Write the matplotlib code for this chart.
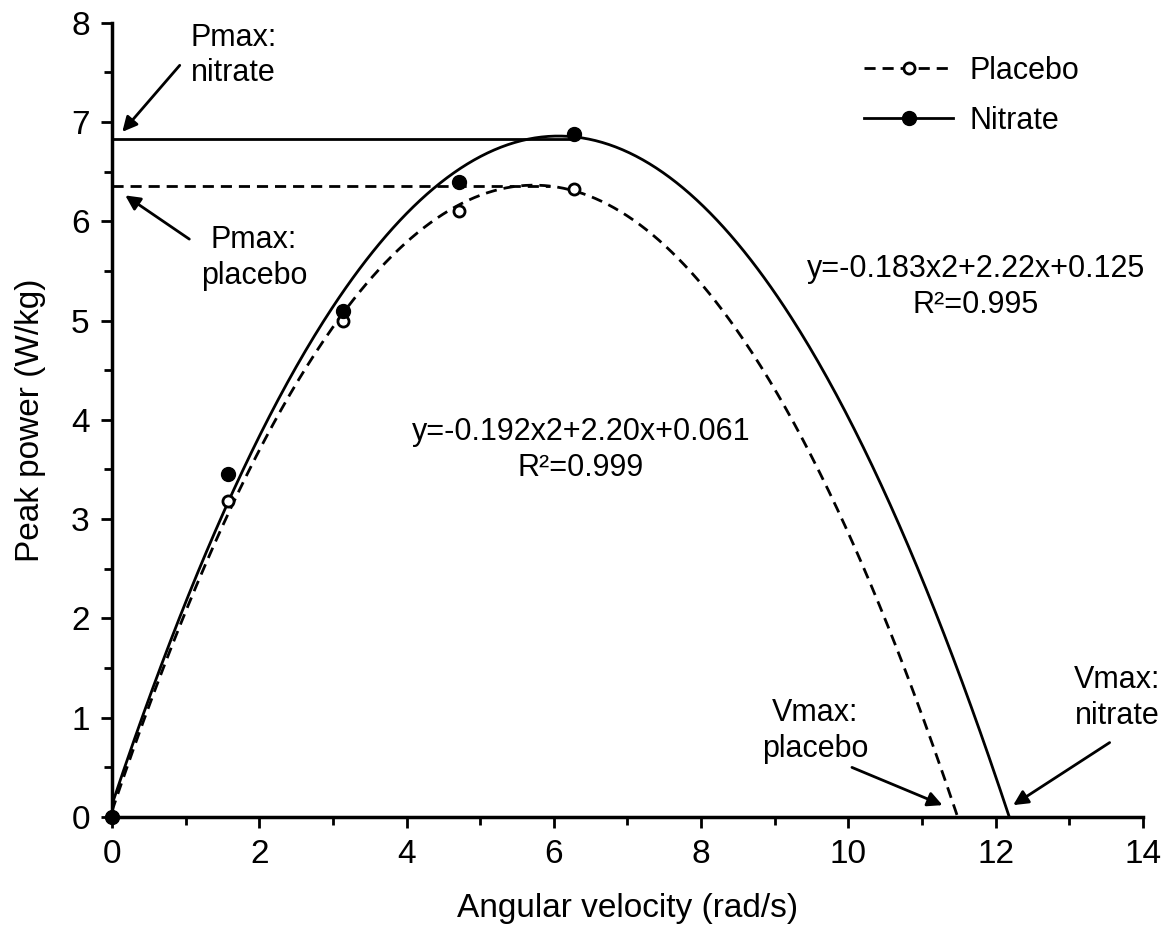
import numpy as np
import matplotlib
matplotlib.use("Agg")
import matplotlib.pyplot as plt
from matplotlib.lines import Line2D
from matplotlib.ticker import MultipleLocator

# measured points (angular velocity rad/s, peak power W/kg)
velocity = [0.0, 1.57, 3.14, 4.71, 6.28]
placebo_power = [0.0, 3.18, 5.00, 6.10, 6.32]
nitrate_power = [0.0, 3.45, 5.10, 6.40, 6.88]

# quadratic fits as printed on the chart (a, b, c)
placebo_fit = [-0.192, 2.20, 0.061]
nitrate_fit = [-0.183, 2.22, 0.125]
placebo_label = "y=-0.192x2+2.20x+0.061\nR\u00b2=0.999"
nitrate_label = "y=-0.183x2+2.22x+0.125\nR\u00b2=0.995"

# Pmax reference lines (level, end x)
placebo_pmax = [6.35, 5.95]
nitrate_pmax = [6.83, 6.25]

plt.rcParams['font.family'] = ['Liberation Sans', 'DejaVu Sans']
FS = 24      # axis labels / ticks
FS_T = 22    # annotations

fig = plt.figure(figsize=(11.74, 9.27), dpi=100)
ax = fig.add_axes([0.0954, 0.1186, 0.878, 0.857])

LW = 2.0
DASH = (0, (4, 2.5))


def fit_curve(coef):
    a, b, c = coef
    root = (-b - np.sqrt(b * b - 4 * a * c)) / (2 * a)
    xs = np.linspace(0, root, 400)
    return xs, np.polyval(coef, xs)


xs, ys = fit_curve(placebo_fit)
ax.plot(xs, ys, color="black", lw=LW, linestyle=DASH)
xs, ys = fit_curve(nitrate_fit)
ax.plot(xs, ys, color="black", lw=LW)

ax.plot([0, placebo_pmax[1]], [placebo_pmax[0]] * 2, color="black", lw=LW, linestyle=DASH)
ax.plot([0, nitrate_pmax[1]], [nitrate_pmax[0]] * 2, color="black", lw=LW)

ax.plot(velocity, placebo_power, "o", mfc="white", mec="black", mew=2, ms=8, zorder=5, clip_on=False)
ax.plot(velocity, nitrate_power, "o", color="black", ms=10, zorder=6, clip_on=False)

ax.text(11.73, 5.34, nitrate_label, ha="center", va="center", fontsize=FS_T, linespacing=1.25)
ax.text(6.37, 3.70, placebo_label, ha="center", va="center", fontsize=FS_T, linespacing=1.25)

arrow = dict(arrowstyle="-|>", color="black", lw=2, mutation_scale=22, shrinkA=0, shrinkB=0)
ax.annotate("", xy=(0.14, 6.9), xytext=(0.92, 7.57), arrowprops=arrow)
ax.text(1.65, 7.67, "Pmax:\nnitrate", ha="center", va="center", fontsize=FS_T, linespacing=1.25)
ax.annotate("", xy=(0.18, 6.26), xytext=(1.05, 5.82), arrowprops=arrow)
ax.text(1.93, 5.63, "Pmax:\nplacebo", ha="center", va="center", fontsize=FS_T, linespacing=1.25)
ax.annotate("", xy=(11.28, 0.12), xytext=(10.05, 0.5), arrowprops=arrow)
ax.text(9.55, 0.87, "Vmax:\nplacebo", ha="center", va="center", fontsize=FS_T, linespacing=1.25)
ax.annotate("", xy=(12.24, 0.12), xytext=(13.55, 0.75), arrowprops=arrow)
ax.text(13.65, 1.2, "Vmax:\nnitrate", ha="center", va="center", fontsize=FS_T, linespacing=1.25)

ax.set_xlim(0, 14)
ax.set_ylim(0, 8)
ax.xaxis.set_major_locator(MultipleLocator(2))
ax.xaxis.set_minor_locator(MultipleLocator(1))
ax.yaxis.set_major_locator(MultipleLocator(1))
ax.yaxis.set_minor_locator(MultipleLocator(0.5))
ax.tick_params(which="both", direction="out", width=2, labelsize=FS)
ax.tick_params(which="major", length=8, pad=8)
ax.tick_params(which="minor", length=6)
for side in ["top", "right"]:
    ax.spines[side].set_visible(False)
for side in ["left", "bottom"]:
    ax.spines[side].set_linewidth(2.5)

ax.set_xlabel("Angular velocity (rad/s)", fontsize=FS, labelpad=16)
ax.set_ylabel("Peak power (W/kg)", fontsize=FS, labelpad=18)

handles = [
    Line2D([], [], color="black", lw=LW, linestyle=DASH, marker="o", mfc="white", mec="black", mew=2, ms=8),
    Line2D([], [], color="black", lw=LW, marker="o", ms=10),
]
ax.legend(handles, ["Placebo", "Nitrate"], loc="upper left", bbox_to_anchor=(0.730, 0.958),
          frameon=False, fontsize=FS_T, handlelength=2.9, handletextpad=0.55, labelspacing=0.65,
          borderpad=0, borderaxespad=0)

fig.savefig("out.png", dpi=100)
